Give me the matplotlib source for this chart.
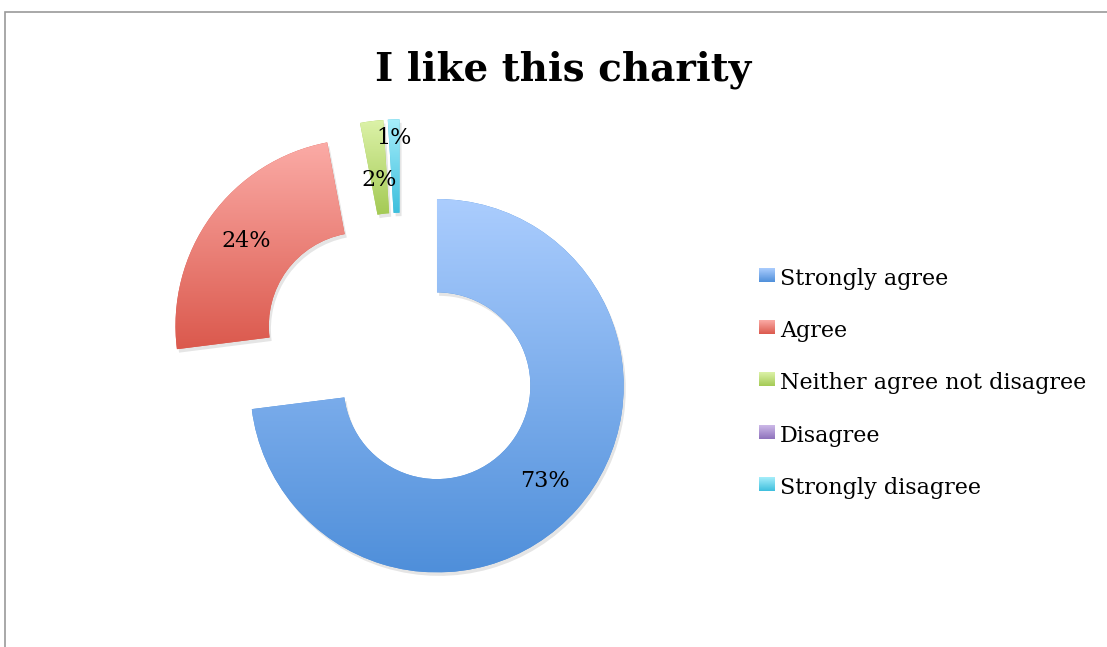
import numpy as np
import matplotlib.pyplot as plt
import matplotlib.patheffects as pe
from matplotlib.colors import LinearSegmentedColormap
from matplotlib.patches import Rectangle

labels = ["Strongly agree", "Agree", "Neither agree not disagree",
          "Disagree", "Strongly disagree"]
values = [73, 24, 2, 0, 1]

# top / bottom colours of each slice's vertical gradient
light = ["#abcdfe", "#fbaba6", "#dcf2a8", "#cdb9e8", "#a6eefb"]
dark = ["#4f8fda", "#db594d", "#a4ca55", "#8e72bc", "#3ebfdd"]

W, H = 1107, 647
serif = "DejaVu Serif"

fig = plt.figure(figsize=(W / 100, H / 100), dpi=100)
ax = fig.add_axes([0, 0, 1, 1])

wedges, _ = ax.pie(
    values,
    startangle=90,
    counterclock=False,
    radius=1.0,
    explode=[0.257] * len(values),
    wedgeprops=dict(width=0.5, linewidth=0),
)

# one pixel = 1/186.7 data units, pie centre at pixel (401, 354)
scale = 186.7
cx, cy = 401, 354
xlim = (-cx / scale, (W - cx) / scale)
ylim = ((cy - H) / scale, cy / scale)


def px(x, y):
    return (x - cx) / scale, (cy - y) / scale


grad = np.linspace(1, 0, 256).reshape(-1, 1)
cmaps = [LinearSegmentedColormap.from_list(f"g{i}", [light[i], dark[i]])
         for i in range(len(values))]

for i, w in enumerate(wedges):
    if values[i] == 0:
        w.set_visible(False)
        continue
    w.set_facecolor(dark[i])
    w.set_path_effects([
        pe.SimplePatchShadow(offset=(1.5, -2.5), shadow_rgbFace="k", alpha=0.1),
        pe.Normal(),
    ])
    bb = w.get_path().get_extents()
    im = ax.imshow(grad, extent=[bb.x0, bb.x1, bb.y0, bb.y1], cmap=cmaps[i],
                   origin="lower", aspect="auto", zorder=w.get_zorder() + 0.1,
                   interpolation="bilinear")
    im.set_clip_path(w)

# data labels placed along each slice's mid angle
label_r = [0.77, 0.77, 0.68, 0.0, 0.9]
for i, w in enumerate(wedges):
    if values[i] == 0:
        continue
    ang = np.deg2rad((w.theta1 + w.theta2) / 2)
    x0, y0 = w.center
    ax.text(x0 + label_r[i] * np.cos(ang), y0 + label_r[i] * np.sin(ang),
            f"{values[i]}%", ha="center", va="center", fontsize=16,
            family=serif, zorder=5)

ax.set_aspect("equal")
ax.axis("off")

fig.text(563 / W, 1 - 70 / H, "I like this charity", ha="center", va="center",
         fontsize=28, fontweight="bold", family=serif)

# legend with gradient swatches
row_y = [275, 327, 379, 431.5, 484]
for i, lab in enumerate(labels):
    x0, y0 = px(759, row_y[i] + 7)
    x1, y1 = px(775, row_y[i] - 7)
    ax.imshow(grad, extent=[x0, x1, y0, y1], cmap=cmaps[i], origin="lower",
              aspect="auto", zorder=5, interpolation="bilinear")
    tx, ty = px(780, row_y[i] + 10)
    ax.text(tx, ty, lab, ha="left", va="baseline", fontsize=16,
            family=serif, zorder=5)

ax.set_xlim(*xlim)
ax.set_ylim(*ylim)

# chart frame (only top and left edges fall inside the image)
fig.patches.append(Rectangle((5 / W, -0.1), 1.2, 1.1 - 12 / H,
                             transform=fig.transFigure, fill=False,
                             edgecolor="#9a9a9a", linewidth=1.2))

fig.savefig("out.png", dpi=100)
